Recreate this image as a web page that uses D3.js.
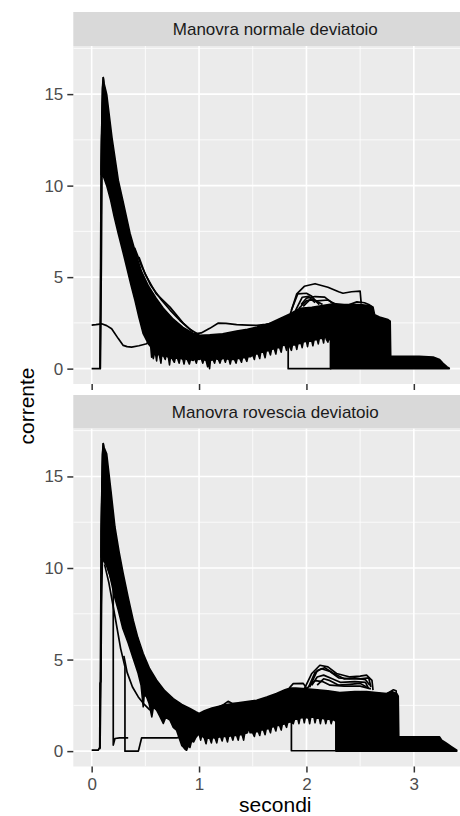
<!DOCTYPE html>
<html>
<head>
<meta charset="utf-8">
<script src="https://cdn.jsdelivr.net/npm/d3@7"></script>
<style>
  html, body { margin: 0; padding: 0; background: #ffffff; }
  svg { display: block; }
  text { font-family: "Liberation Sans", Arial, sans-serif; }
</style>
</head>
<body>
<svg id="chart" width="460" height="816"></svg>
<script>
// ---- axis ticks and facet titles ----
const secondiTicks = [0, 1, 2, 3];
const secondiMinor = [0.5, 1.5, 2.5, 3.5];
const correnteTicks = [0, 5, 10, 15];
const correnteMinor = [2.5, 7.5, 12.5, 17.5];
const facetTitles = ["Manovra normale deviatoio", "Manovra rovescia deviatoio"];

// ---- Manovra normale: envelope of the dense bundle of current traces ----
const normUpper = [
  [0.088, 11.0], [0.096, 14.0], [0.103, 15.4], [0.108, 15.9], [0.115, 15.6], [0.14, 15.0],
  [0.19, 12.6], [0.248, 10.3], [0.294, 9.1], [0.357, 7.4], [0.41, 6.3], [0.465, 5.3],
  [0.53, 4.5], [0.60, 3.85], [0.667, 3.3], [0.76, 2.7], [0.85, 2.25], [0.94, 1.95],
  [1.01, 1.82], [1.10, 1.85], [1.22, 1.91], [1.35, 2.05], [1.45, 2.15], [1.54, 2.27],
  [1.65, 2.45], [1.75, 2.73], [1.85, 3.0], [1.94, 3.3], [2.05, 3.35], [2.15, 3.45],
  [2.25, 3.55], [2.35, 3.5], [2.5, 3.5], [2.58, 3.45], [2.62, 3.36], [2.635, 2.95],
  [2.68, 2.82], [2.76, 2.68], [2.78, 2.6], [2.785, 0.68], [2.9, 0.68], [3.05, 0.67],
  [3.18, 0.63], [3.24, 0.5], [3.27, 0.3], [3.31, 0.1], [3.33, 0.02]
];
const normLower = [
  [0.088, 10.6], [0.11, 10.5], [0.14, 10.0], [0.177, 9.2], [0.21, 8.3], [0.248, 7.37],
  [0.29, 6.4], [0.326, 5.54], [0.365, 4.6], [0.403, 3.73], [0.44, 2.8], [0.48, 1.91],
  [0.527, 1.36], [0.55, 1.2], [0.558, 0.63], [0.566, 0.9], [0.574, 0.55], [0.585, 0.85],
  [0.595, 0.8], [0.605, 0.42], [0.612, 0.8], [0.63, 0.75], [0.645, 0.3], [0.652, 0.7],
  [0.67, 0.7], [0.685, 0.5], [0.695, 0.75], [0.715, 0.6], [0.725, 0.2], [0.733, 0.6],
  [0.75, 0.55], [0.77, 0.35], [0.78, 0.6], [0.8, 0.55], [0.815, 0.3], [0.825, 0.6],
  [0.85, 0.5], [0.86, 0.25], [0.87, 0.55], [0.89, 0.5], [0.91, 0.25], [0.92, 0.5],
  [0.945, 0.45], [0.96, 0.55], [0.975, 0.3], [0.985, 0.55], [1.0, 0.5], [1.02, 0.55],
  [1.035, 0.3], [1.045, 0.5], [1.065, 0.45], [1.08, 0.1], [1.09, 0.45], [1.098, 0.0],
  [1.106, 0.45], [1.13, 0.5], [1.145, 0.3], [1.155, 0.55], [1.18, 0.5], [1.195, 0.3],
  [1.205, 0.5], [1.23, 0.6], [1.245, 0.35], [1.255, 0.55], [1.28, 0.5], [1.29, 0.25],
  [1.3, 0.5], [1.33, 0.5], [1.345, 0.3], [1.355, 0.55], [1.38, 0.55], [1.395, 0.35],
  [1.405, 0.6], [1.43, 0.6], [1.445, 0.4], [1.455, 0.65], [1.48, 0.65], [1.5, 0.75],
  [1.515, 0.5], [1.525, 0.8], [1.55, 0.8], [1.565, 0.55], [1.575, 0.9], [1.6, 0.9],
  [1.615, 0.6], [1.625, 0.95], [1.65, 1.0], [1.665, 0.75], [1.675, 1.05], [1.70, 1.1],
  [1.715, 0.8], [1.725, 1.15], [1.75, 1.15], [1.765, 0.9], [1.775, 1.25], [1.80, 1.3],
  [1.815, 1.0], [1.825, 1.3], [1.84, 1.25], [1.86, 1.0], [1.87, 1.3], [1.9, 1.3],
  [1.91, 1.05], [1.92, 1.35], [1.95, 1.4], [1.96, 1.15], [1.97, 1.45], [2.0, 1.5],
  [2.01, 1.2], [2.02, 1.5], [2.05, 1.5], [2.06, 1.25], [2.07, 1.55], [2.1, 1.6],
  [2.11, 1.35], [2.12, 1.65], [2.15, 1.65], [2.16, 1.4], [2.17, 1.9], [2.185, 1.6],
  [2.2, 1.45], [2.21, 1.7], [2.225, 1.5], [2.225, 0.0], [3.33, 0.0]
];

// ---- Manovra normale: individual traces standing out of the bundle ----
const normRiseA = [[0, 0], [0.08, 0], [0.083, 5.5], [0.088, 11], [0.1, 15.3], [0.108, 15.9], [0.115, 15.5]];
const normRiseB = [[0.078, 0], [0.086, 6], [0.093, 12.5], [0.104, 14.8]];
const normRiseC = [[0.08, 0], [0.09, 5.5], [0.096, 10.6], [0.11, 10.5]];
const normEarly = [[0, 2.38], [0.04, 2.4], [0.093, 2.45], [0.14, 2.35], [0.186, 2.18], [0.248, 1.64],
  [0.294, 1.27], [0.33, 1.2], [0.372, 1.18], [0.44, 1.25], [0.512, 1.36], [0.53, 1.5], [0.545, 1.7]];
const normSlowA = [[0.40, 6.6], [0.465, 5.6], [0.55, 4.55], [0.65, 3.75], [0.73, 3.2], [0.822, 2.63], [0.915, 2.15], [0.98, 1.92]];
const normSlowB = [[0.44, 6.1], [0.497, 5.18], [0.6, 4.1], [0.729, 3.36], [0.85, 2.5], [0.946, 2.0]];
const normBump = [[0.96, 1.9], [1.02, 1.95], [1.1, 2.2], [1.18, 2.49], [1.25, 2.47], [1.35, 2.4],
  [1.45, 2.38], [1.54, 2.36], [1.62, 2.42], [1.69, 2.49], [1.72, 2.6]];
const normZero = [[1.80, 1.4], [1.83, 1.3], [1.83, 0], [2.225, 0], [2.225, 1.5]];
const normHumpA = [[1.85, 3.0], [1.91, 4.09], [1.98, 4.5], [2.08, 4.64], [2.20, 4.45], [2.30, 4.2],
  [2.34, 4.12], [2.42, 4.2], [2.50, 4.23], [2.51, 3.55]];
const normHumpB = [[1.86, 3.2], [1.92, 4.09], [2.0, 4.12], [2.05, 3.95], [2.08, 3.73], [2.12, 3.5]];
const normHumpC = [[1.95, 3.5], [2.0, 3.85], [2.08, 3.94], [2.17, 3.91], [2.23, 3.63], [2.28, 3.5]];
const normHumpD = [[1.93, 3.3], [2.0, 3.7], [2.06, 3.8], [2.12, 3.6], [2.15, 3.5]];
const normHumpE = [[2.40, 3.5], [2.47, 3.65], [2.54, 3.6], [2.58, 3.5], [2.62, 3.36]];
const normHumpF = [[1.97, 3.4], [2.03, 3.75], [2.1, 3.7], [2.2, 3.75], [2.26, 3.55]];
const normHumpG = [[1.9, 3.2], [1.96, 3.9], [2.02, 3.95], [2.08, 3.6]];

// ---- Manovra rovescia: envelope of the dense bundle ----
const rovUpper = [
  [0.088, 12.0], [0.098, 15.5], [0.104, 16.5], [0.108, 16.79], [0.114, 16.6], [0.14, 16.24],
  [0.18, 14.2], [0.217, 12.24], [0.255, 10.9], [0.294, 9.69], [0.34, 8.4], [0.387, 7.15],
  [0.43, 6.2], [0.48, 5.33], [0.54, 4.5], [0.605, 3.87], [0.68, 3.3], [0.76, 2.87],
  [0.84, 2.55], [0.915, 2.33], [0.97, 2.15], [1.0, 2.06], [1.05, 2.2], [1.12, 2.35],
  [1.225, 2.51], [1.38, 2.65], [1.536, 2.78], [1.63, 2.95], [1.72, 3.15], [1.80, 3.35],
  [1.85, 3.45], [1.90, 3.45], [2.0, 3.4], [2.1, 3.35], [2.2, 3.3], [2.31, 3.2], [2.45, 3.25],
  [2.56, 3.25], [2.65, 3.2], [2.75, 3.15], [2.80, 3.25], [2.84, 3.15], [2.855, 3.0],
  [2.86, 0.78], [3.0, 0.78], [3.24, 0.78], [3.26, 0.6], [3.30, 0.45], [3.35, 0.25], [3.40, 0.05]
];
const rovLower = [
  [0.088, 10.6], [0.11, 10.4], [0.14, 10.1], [0.17, 9.6], [0.21, 8.5], [0.248, 7.69],
  [0.29, 6.7], [0.34, 5.9], [0.39, 5.0], [0.43, 4.3], [0.46, 3.6], [0.48, 2.42], [0.49, 3.1],
  [0.512, 2.96], [0.535, 2.6], [0.56, 1.87], [0.575, 2.4], [0.605, 2.24], [0.635, 1.9],
  [0.667, 1.51], [0.69, 1.85], [0.729, 1.69], [0.76, 1.3], [0.79, 1.15], [0.81, 0.8],
  [0.822, 0.6], [0.84, 0.3], [0.853, 0.23], [0.87, 0.1], [0.884, 0.05], [0.9, 0.3],
  [0.915, 0.2], [0.93, 0.55], [0.95, 0.5], [0.97, 0.75], [0.99, 0.9], [1.0, 0.95],
  [1.015, 0.6], [1.025, 0.85], [1.05, 0.7], [1.065, 0.4], [1.075, 0.7], [1.1, 0.7],
  [1.115, 0.45], [1.125, 0.75], [1.15, 0.7], [1.165, 0.45], [1.175, 0.75], [1.2, 0.8],
  [1.215, 0.55], [1.225, 0.8], [1.25, 0.8], [1.265, 0.5], [1.275, 0.8], [1.3, 0.85],
  [1.315, 0.6], [1.325, 0.85], [1.35, 0.85], [1.365, 0.6], [1.375, 0.9], [1.4, 0.9],
  [1.415, 0.6], [1.425, 0.95], [1.45, 1.0], [1.465, 1.3], [1.475, 1.0], [1.5, 1.0],
  [1.515, 0.8], [1.525, 1.05], [1.55, 1.1], [1.565, 0.85], [1.575, 1.15], [1.6, 1.15],
  [1.615, 0.9], [1.625, 1.2], [1.65, 1.25], [1.665, 1.0], [1.675, 1.3], [1.7, 1.35],
  [1.715, 1.1], [1.725, 1.4], [1.75, 1.4], [1.765, 1.15], [1.775, 1.45], [1.8, 1.5],
  [1.815, 1.3], [1.825, 1.55], [1.85, 1.6], [1.877, 1.5], [1.89, 1.75], [1.92, 1.75],
  [1.93, 1.5], [1.94, 1.8], [1.97, 1.85], [1.98, 1.55], [1.99, 1.85], [2.02, 1.8],
  [2.03, 1.5], [2.04, 1.85], [2.07, 1.85], [2.08, 1.55], [2.09, 1.8], [2.12, 1.8],
  [2.13, 1.5], [2.14, 1.8], [2.17, 1.75], [2.18, 1.5], [2.19, 1.75], [2.22, 1.75],
  [2.23, 1.5], [2.24, 1.7], [2.26, 1.7], [2.275, 1.6], [2.275, 0.0], [3.40, 0.0]
];

// ---- Manovra rovescia: individual traces ----
const rovRiseA = [[0, 0.05], [0.06, 0.05], [0.075, 0.2], [0.078, 3.7], [0.085, 3.8], [0.09, 12], [0.1, 16.2], [0.108, 16.79], [0.112, 16.6]];
const rovRiseB = [[0.076, 0.1], [0.082, 5], [0.088, 11], [0.097, 14.5], [0.11, 15.5]];
const rovRiseC = [[0.078, 0.15], [0.086, 4], [0.092, 8], [0.1, 10.5], [0.11, 10.4]];
const rovDropA = [[0.15, 10.0], [0.19, 9.2], [0.201, 9.0], [0.201, 0.33], [0.217, 0.69], [0.26, 0.72], [0.34, 0.72]];
const rovDropB = [[0.12, 10.2], [0.16, 9.2], [0.218, 7.33], [0.27, 5.6], [0.31, 4.6], [0.31, 0.0],
  [0.435, 0.0], [0.465, 0.72], [0.6, 0.72], [0.79, 0.72], [0.82, 0.75]];
const rovFast = [[0.30, 5.2], [0.33, 4.3], [0.38, 3.5], [0.434, 2.96], [0.49, 2.55], [0.543, 2.24]];
const rovBump = [[1.18, 2.4], [1.23, 2.55], [1.27, 2.72], [1.31, 2.6], [1.36, 2.6]];
const rovShoulder = [[1.84, 3.45], [1.877, 3.69], [1.97, 3.7], [2.0, 3.45]];
const rovZero = [[1.84, 1.7], [1.86, 1.6], [1.86, 0.02], [2.275, 0.02], [2.275, 1.6]];
const rovHumpA = [[1.98, 3.4], [2.05, 4.24], [2.125, 4.69], [2.20, 4.6], [2.28, 4.24], [2.405, 4.05],
  [2.50, 4.1], [2.56, 4.15], [2.61, 3.87], [2.62, 3.33]];
const rovHumpB = [[2.02, 3.5], [2.08, 4.3], [2.14, 4.5], [2.22, 4.35], [2.3, 4.0], [2.4, 3.95], [2.5, 3.95], [2.58, 4.0], [2.6, 3.5]];
const rovHumpC = [[2.05, 3.6], [2.1, 4.05], [2.16, 4.15], [2.24, 3.95], [2.32, 3.75], [2.45, 3.8], [2.55, 3.75], [2.58, 3.4]];
const rovHumpD = [[2.0, 3.4], [2.08, 3.85], [2.15, 3.8], [2.22, 3.6], [2.35, 3.55], [2.5, 3.55], [2.6, 3.4]];
const rovHumpE = [[2.03, 3.5], [2.1, 4.4], [2.17, 4.55], [2.25, 4.25], [2.35, 3.95], [2.45, 4.0], [2.55, 3.9], [2.59, 3.6]];
const rovHumpF = [[2.1, 3.6], [2.16, 3.95], [2.22, 3.85], [2.3, 3.6], [2.4, 3.65], [2.5, 3.7], [2.56, 3.5]];
const rovEdge = [[2.75, 3.15], [2.78, 3.25], [2.81, 3.35], [2.835, 3.3], [2.84, 2.9], [2.845, 0.78]];

const panels = [
  {
    title: facetTitles[0],
    upper: normUpper, lower: normLower,
    traces: [normRiseA, normRiseB, normRiseC, normEarly, normSlowA, normSlowB, normBump, normZero,
             normHumpA, normHumpB, normHumpC, normHumpD, normHumpE, normHumpF, normHumpG],
    stripTop: 12, top: 46, bottom: 384
  },
  {
    title: facetTitles[1],
    upper: rovUpper, lower: rovLower,
    traces: [rovRiseA, rovRiseB, rovRiseC, rovDropA, rovDropB, rovFast, rovBump, rovShoulder, rovZero,
             rovHumpA, rovHumpB, rovHumpC, rovHumpD, rovHumpE, rovHumpF, rovEdge],
    stripTop: 395, top: 428.3, bottom: 766.5
  }
];

// ---- layout ----
const svg = d3.select("#chart");
const left = 73.3, right = 477.3;
const xMax = 3.42, yMax = 16.79;
const x = d3.scaleLinear().domain([-0.05 * xMax, xMax * 1.05]).range([left, right]);

const line = d3.line().x(d => x(d[0]));

panels.forEach((p, i) => {
  const y = d3.scaleLinear().domain([-0.05 * yMax, yMax * 1.05]).range([p.bottom, p.top]);
  const g = svg.append("g");

  // panel background
  g.append("rect").attr("x", left).attr("y", p.top)
    .attr("width", right - left).attr("height", p.bottom - p.top).attr("fill", "#EBEBEB");

  const clipId = "clip" + i;
  svg.append("clipPath").attr("id", clipId).append("rect")
    .attr("x", left).attr("y", p.top).attr("width", right - left).attr("height", p.bottom - p.top);

  const grid = g.append("g").attr("clip-path", `url(#${clipId})`);
  grid.selectAll("line.ymin").data(correnteMinor).join("line")
    .attr("x1", left).attr("x2", right).attr("y1", d => y(d)).attr("y2", d => y(d))
    .attr("stroke", "#fff").attr("stroke-width", 0.8);
  grid.selectAll("line.xmin").data(secondiMinor).join("line")
    .attr("y1", p.top).attr("y2", p.bottom).attr("x1", d => x(d)).attr("x2", d => x(d))
    .attr("stroke", "#fff").attr("stroke-width", 0.8);
  grid.selectAll("line.ymaj").data(correnteTicks).join("line")
    .attr("x1", left).attr("x2", right).attr("y1", d => y(d)).attr("y2", d => y(d))
    .attr("stroke", "#fff").attr("stroke-width", 1.6);
  grid.selectAll("line.xmaj").data(secondiTicks).join("line")
    .attr("y1", p.top).attr("y2", p.bottom).attr("x1", d => x(d)).attr("x2", d => x(d))
    .attr("stroke", "#fff").attr("stroke-width", 1.6);

  // data: the bundle envelope, then the single traces on top
  const dataG = g.append("g").attr("clip-path", `url(#${clipId})`);
  line.y(d => y(d[1]));
  const bandPoly = p.upper.concat(p.lower.slice().reverse());
  dataG.append("path").attr("d", line(bandPoly) + "Z")
    .attr("fill", "#000").attr("stroke", "#000").attr("stroke-width", 1.6)
    .attr("stroke-linejoin", "round");
  dataG.selectAll("path.trace").data(p.traces).join("path")
    .attr("class", "trace")
    .attr("d", d => line(d))
    .attr("fill", "none").attr("stroke", "#000").attr("stroke-width", 1.7)
    .attr("stroke-linejoin", "round");

  // strip
  g.append("rect").attr("x", left).attr("y", p.stripTop)
    .attr("width", right - left).attr("height", p.top - p.stripTop).attr("fill", "#D9D9D9");
  g.append("text").attr("x", (left + right) / 2).attr("y", (p.stripTop + p.top) / 2)
    .attr("dy", "0.36em").attr("text-anchor", "middle")
    .attr("font-size", 17).attr("fill", "#1A1A1A").text(p.title);

  // y axis
  const yAxis = g.append("g").attr("transform", `translate(${left},0)`)
    .call(d3.axisLeft(y).tickValues(correnteTicks).tickSize(6).tickPadding(4));
  yAxis.select(".domain").remove();
  yAxis.selectAll(".tick line").attr("stroke", "#333333").attr("stroke-width", 1.5);
  yAxis.selectAll(".tick text").attr("fill", "#4D4D4D").attr("font-size", 17)
    .attr("font-family", "Liberation Sans, Arial, sans-serif");

  // x axis: ticks on both panels, labels only under the lower one
  const xa = g.append("g").attr("transform", `translate(0,${p.bottom})`)
    .call(d3.axisBottom(x).tickValues(secondiTicks).tickSize(6).tickPadding(5)
      .tickFormat(i === 0 ? () => "" : d3.format("d")));
  xa.select(".domain").remove();
  xa.selectAll(".tick line").attr("stroke", "#333333").attr("stroke-width", 1.5);
  xa.selectAll(".tick text").attr("fill", "#4D4D4D").attr("font-size", 17)
    .attr("font-family", "Liberation Sans, Arial, sans-serif");
});

// axis titles
svg.append("text").attr("x", (left + right) / 2).attr("y", 812)
  .attr("text-anchor", "middle").attr("font-size", 21).attr("fill", "#000").text("secondi");
svg.append("text").attr("transform", "translate(34,406) rotate(-90)")
  .attr("text-anchor", "middle").attr("font-size", 21).attr("fill", "#000").text("corrente");
</script>
</body>
</html>
